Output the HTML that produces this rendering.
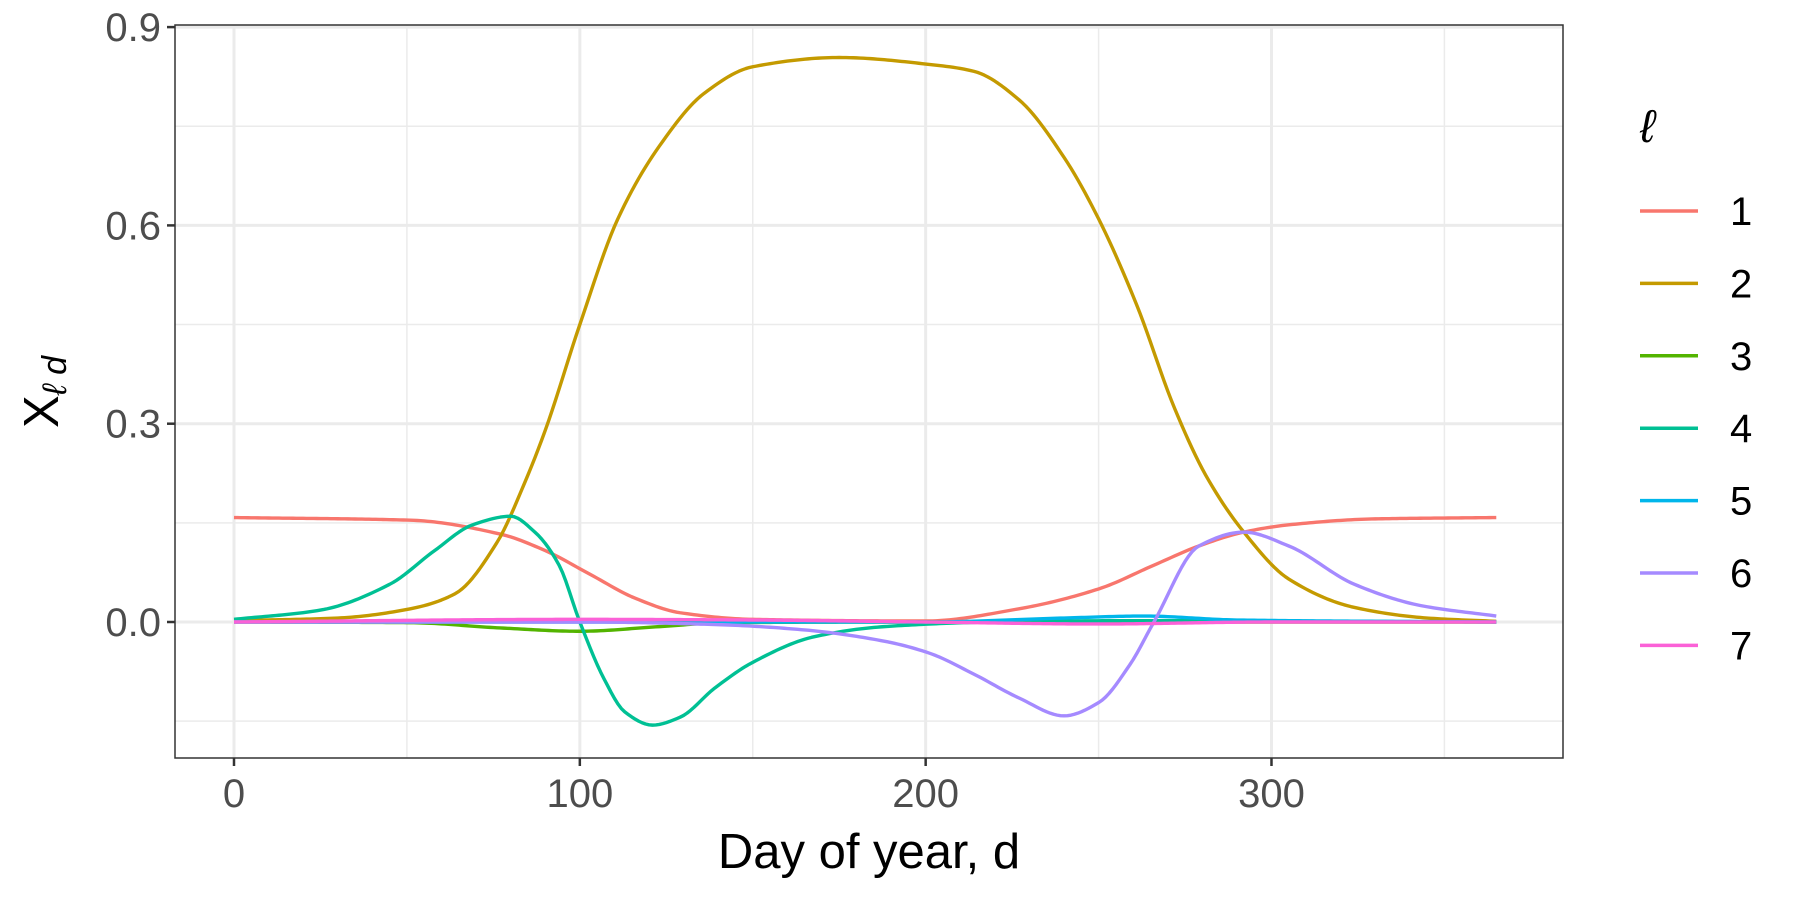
<!DOCTYPE html>
<html><head><meta charset="utf-8"><style>
body{margin:0;background:#fff;}
svg{display:block;font-family:"Liberation Sans",sans-serif;}
</style></head><body>
<svg id="chart" width="1800" height="900"></svg>
<script>
const seriesNames=["1","2","3","4","5","6","7"];
const colors=["#F8766D","#C49A00","#53B400","#00C094","#00B6EB","#A58AFF","#FB61D7"];
const days1=[0,51,77,90,103,116,129,150,200,227,250,266,279,292,305,330,365];
const vals1=[0.158,0.154,0.133,0.108,0.072,0.036,0.014,0.004,0.0015,0.02,0.05,0.086,0.115,0.136,0.147,0.156,0.158];
const days2=[0,30,51,64,76,84,90,100,111,123,136,150,175,202,214,227,240,250,261,272,281,292,305,324,345,365];
const vals2=[0.002,0.006,0.02,0.043,0.12,0.21,0.29,0.45,0.61,0.72,0.80,0.84,0.854,0.843,0.833,0.79,0.703,0.61,0.48,0.323,0.222,0.136,0.065,0.022,0.006,0.001];
const days3=[0,51,77,100,123,142,200,365];
const vals3=[0,-0.001,-0.009,-0.014,-0.007,-0.001,0,0];
const days4=[0,25,45,58,69,80,87,94,100,107,113,121,129,139,150,168,188,220,260,365];
const vals4=[0.004,0.018,0.057,0.108,0.147,0.16,0.136,0.086,0.0,-0.086,-0.136,-0.156,-0.144,-0.1,-0.061,-0.022,-0.007,0,0.002,0];
const days5=[0,100,200,240,263,290,365];
const vals5=[0,0,0,0.006,0.009,0.003,0];
const days6=[0,100,140,165,188,201,214,227,240,250,259,266,279,292,305,324,343,365];
const vals6=[0,0,-0.004,-0.012,-0.029,-0.047,-0.079,-0.115,-0.142,-0.122,-0.065,0,0.115,0.136,0.115,0.057,0.025,0.009];
const days7=[0,100,150,200,250,300,365];
const vals7=[0,0.004,0.003,0,-0.003,0,0];
const allDays=[days1,days2,days3,days4,days5,days6,days7];
const allVals=[vals1,vals2,vals3,vals4,vals5,vals6,vals7];
const yTicks=[0,0.3,0.6,0.9];
const yMinor=[-0.15,0.15,0.45,0.75];
const xTicks=[0,100,200,300];
const xMinor=[50,150,250,350];

const NS="http://www.w3.org/2000/svg";
const svg=document.getElementById('chart');
const L=175,R=1563,T=25,B=758;
const xs=d=>234+d*3.4583;
const ys=v=>622-v*661;
function mk(tag,attrs,parent){const e=document.createElementNS(NS,tag);for(const k in attrs)e.setAttribute(k,attrs[k]);(parent||svg).appendChild(e);return e;}
const grid=mk('g',{});


yMinor.forEach(v=>mk('line',{x1:L,x2:R,y1:ys(v),y2:ys(v),stroke:'#ebebeb','stroke-width':1.5},grid));
xMinor.forEach(v=>mk('line',{x1:xs(v),x2:xs(v),y1:T,y2:B,stroke:'#ebebeb','stroke-width':1.5},grid));
yTicks.forEach(v=>mk('line',{x1:L,x2:R,y1:ys(v),y2:ys(v),stroke:'#ebebeb','stroke-width':3},grid));
xTicks.forEach(v=>mk('line',{x1:xs(v),x2:xs(v),y1:T,y2:B,stroke:'#ebebeb','stroke-width':3},grid));
function monotone(xsArr,ysArr){
  const n=xsArr.length,h=[],s=[],m=new Array(n);
  for(let i=0;i<n-1;i++){h[i]=xsArr[i+1]-xsArr[i];s[i]=(ysArr[i+1]-ysArr[i])/h[i];}
  m[0]=s[0];m[n-1]=s[n-2];
  for(let i=1;i<n-1;i++){
    if(s[i-1]*s[i]<=0)m[i]=0;
    else{const w1=2*h[i]+h[i-1],w2=h[i]+2*h[i-1];m[i]=(w1+w2)/(w1/s[i-1]+w2/s[i]);}
  }
  return t=>{
    let i=0;while(i<n-2&&t>xsArr[i+1])i++;
    const hh=h[i],u=(t-xsArr[i])/hh,u2=u*u,u3=u2*u;
    return (2*u3-3*u2+1)*ysArr[i]+(u3-2*u2+u)*hh*m[i]+(-2*u3+3*u2)*ysArr[i+1]+(u3-u2)*hh*m[i+1];
  };
}
function pathFor(ds,vs){
  const f=monotone(ds,vs);
  const d0=ds[0],d1=ds[ds.length-1];
  let s='';
  for(let t=d0;t<=d1+1e-9;t+=1){s+=(s?'L':'M')+xs(t).toFixed(2)+','+ys(f(t)).toFixed(2);}
  return s;
}
[0,1,2,3,4,5,6].forEach(i=>{
  const e=mk('path',{d:pathFor(allDays[i],allVals[i]),fill:'none',stroke:colors[i],'stroke-width':3.4,'stroke-linejoin':'round'});
  
  
});
const frame=mk('rect',{x:L,y:T,width:R-L,height:B-T,fill:'none',stroke:'#333','stroke-width':1.5});


yTicks.forEach(v=>{
  mk('line',{x1:L-8,x2:L,y1:ys(v),y2:ys(v),stroke:'#333','stroke-width':2.5});
  const t=mk('text',{x:L-14,y:ys(v)+14,'text-anchor':'end','font-size':40,fill:'#4d4d4d'});
  t.textContent=v.toFixed(1);
  
  
});
xTicks.forEach(v=>{
  mk('line',{x1:xs(v),x2:xs(v),y1:B,y2:B+8,stroke:'#333','stroke-width':2.5});
  const t=mk('text',{x:xs(v),y:B+49,'text-anchor':'middle','font-size':40,fill:'#4d4d4d'});
  t.textContent=v;
  
  
});
const xt=mk('text',{x:(L+R)/2,y:868,'text-anchor':'middle','font-size':49,fill:'#000'});
xt.textContent='Day of year, d';


const yt=mk('text',{transform:'translate(58,392) rotate(-90)','text-anchor':'middle','font-size':49,fill:'#000'});
yt.innerHTML='X<tspan font-size="34" font-style="italic" dy="8">ℓ d</tspan>';


const lt=mk('text',{x:1640,y:142,'font-size':46,'font-style':'italic',fill:'#000'});
lt.textContent='ℓ';


seriesNames.forEach((n,i)=>{
  const g=mk('g',{});
  
  
  const y=211+i*72.4;
  mk('line',{x1:1640,x2:1698,y1:y,y2:y,stroke:colors[i],'stroke-width':3.5},g);
  const t=mk('text',{x:1730,y:y+14,'font-size':40,fill:'#000'},g);
  t.textContent=n;
});
</script>
</body></html>
